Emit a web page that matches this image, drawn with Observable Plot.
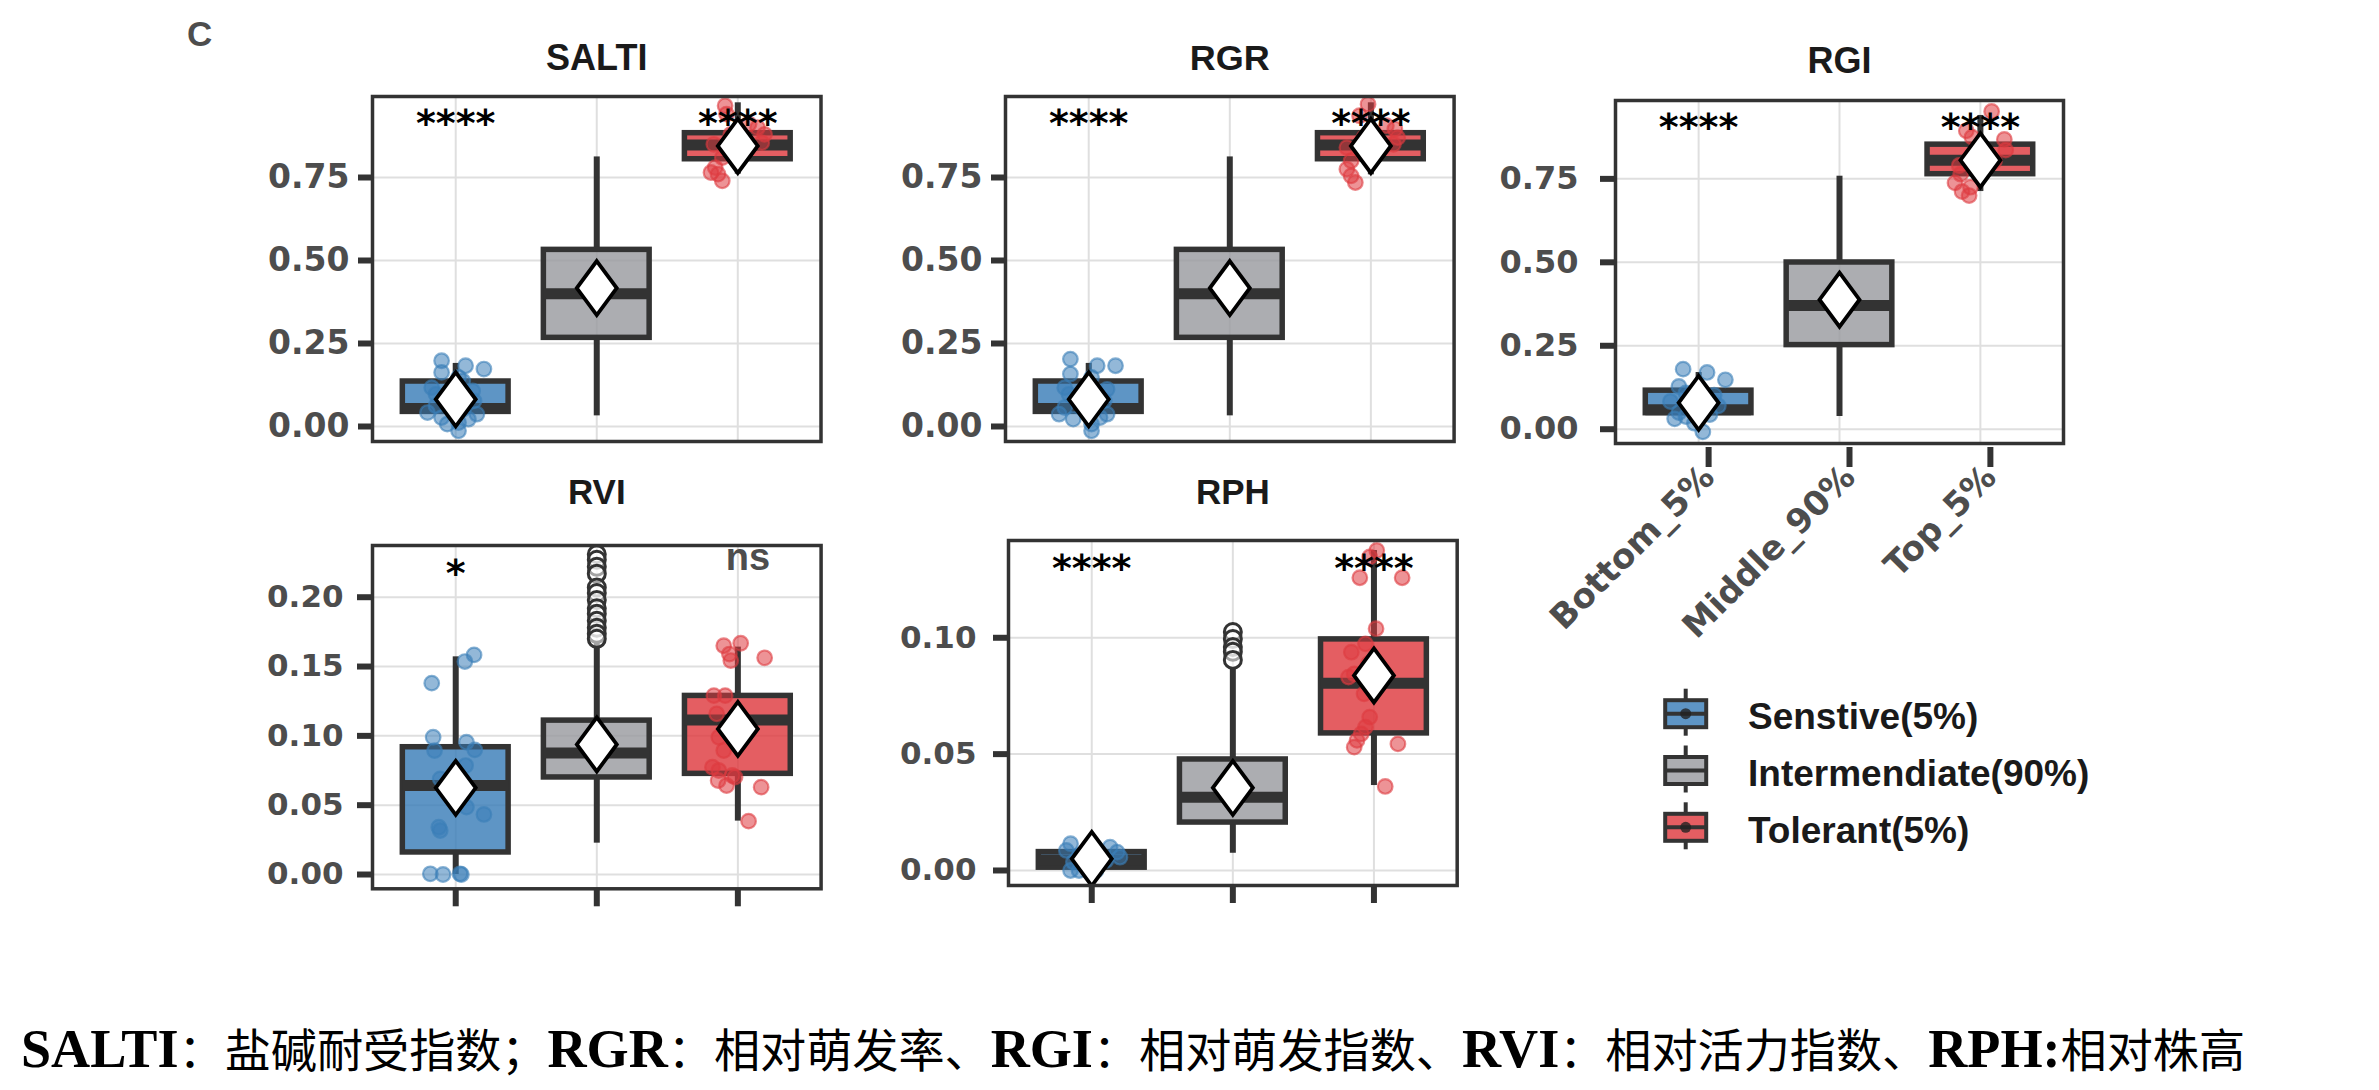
<!DOCTYPE html>
<html>
<head>
<meta charset="utf-8">
<script src="https://cdn.jsdelivr.net/npm/d3@7"></script>
<script src="https://cdn.jsdelivr.net/npm/@observablehq/plot@0.6"></script>
<style>
  html, body { margin: 0; padding: 0; background: #fff; }
  #page { position: relative; width: 2379px; height: 1090px; overflow: hidden; background: #fff; }
  #page svg { position: absolute; overflow: visible; max-width: none; }
  #caption { position: absolute; left: 21px; top: 1016px; white-space: nowrap; line-height: 62px; transform-origin: 0 50%; color: #000; }
  #caption .l { font-family: 'Liberation Serif', 'Times New Roman', serif; font-weight: bold; font-size: 54px; }
  #caption .c { font-family: 'Noto Sans CJK SC', sans-serif; font-weight: 400; font-size: 46px; }
</style>
</head>
<body>
<div id="page">
  <div id="caption"><span class="l">SALTI</span><span class="c">：盐碱耐受指数；</span><span class="l">RGR</span><span class="c">：相对萌发率、</span><span class="l">RGI</span><span class="c">：相对萌发指数、</span><span class="l">RVI</span><span class="c">：相对活力指数、</span><span class="l">RPH:</span><span class="c">相对株高</span></div>
</div>
<script>
// ---------------- DATA ----------------
const categories = ["Bottom_5%", "Middle_90%", "Top_5%"];
const groups = ["Senstive(5%)", "Intermendiate(90%)", "Tolerant(5%)"];
const traits = ["SALTI", "RGR", "RGI", "RVI", "RPH"];
const yTicks = [
  [0, 0.25, 0.5, 0.75],
  [0, 0.25, 0.5, 0.75],
  [0, 0.25, 0.5, 0.75],
  [0, 0.05, 0.10, 0.15, 0.20],
  [0, 0.05, 0.10]
];

// box statistics: one row per trait, columns follow categories
const whiskerLow  = [[0.000, 0.032, 0.760], [0.000, 0.032, 0.758], [0.000, 0.038, 0.712], [0.000, 0.0226, 0.0385], [0.000, 0.0074, 0.0365]];
const quart1      = [[0.044, 0.267, 0.805], [0.044, 0.267, 0.805], [0.048, 0.252, 0.764], [0.0159, 0.070, 0.0726], [0.0012, 0.0206, 0.0589]];
const medians     = [[0.054, 0.400, 0.848], [0.054, 0.400, 0.848], [0.058, 0.371, 0.806], [0.0642, 0.0877, 0.1115], [0.0045, 0.0315, 0.0805]];
const quart3      = [[0.1355, 0.532, 0.8835], [0.1355, 0.532, 0.8835], [0.1155, 0.4995, 0.8525], [0.0918, 0.111, 0.1288], [0.0079, 0.0477, 0.0993]];
const whiskerHigh = [[0.190, 0.812, 0.975], [0.190, 0.812, 0.975], [0.170, 0.758, 0.940], [0.157, 0.1675, 0.164], [0.013, 0.0874, 0.1375]];
const means       = [[0.082, 0.417, 0.845], [0.082, 0.417, 0.845], [0.079, 0.388, 0.806], [0.0625, 0.0938, 0.105], [0.005, 0.0355, 0.0838]];

// significance labels per trait (vs. Middle_90%)
const significance = [
  ["****", "", "****"], ["****", "", "****"], ["****", "", "****"], ["*", "", "ns"], ["****", "", "****"]
];

// jittered observations: [value, horizontal jitter in category units]
const SALTI_sens = [[0.198,-0.10],[0.183,0.07],[0.173,0.20],[0.163,-0.10],[0.148,0.02],[0.137,0.05],[0.117,-0.17],[0.107,0.12],[0.097,-0.14],[0.087,-0.07],[0.077,0.13],[0.062,-0.14],[0.052,0.05],[0.042,-0.20],[0.037,0.15],[0.027,-0.10],[0.022,0.09],[0.012,0.02],[0.007,-0.06],[-0.013,0.02]];
const SALTI_tol  = [[0.966,-0.09],[0.941,-0.08],[0.911,0.08],[0.900,0.14],[0.880,0.19],[0.855,0.17],[0.850,-0.17],[0.880,-0.05],[0.830,0.02],[0.810,-0.11],[0.780,-0.16],[0.765,-0.19],[0.760,-0.14],[0.740,-0.11]];
const RGR_sens   = [[0.203,-0.13],[0.183,0.06],[0.183,0.19],[0.158,-0.13],[0.148,0.02],[0.117,-0.17],[0.112,0.13],[0.097,-0.14],[0.087,-0.08],[0.077,0.11],[0.057,-0.17],[0.052,0.03],[0.037,-0.21],[0.037,0.13],[0.027,0.08],[0.022,-0.11],[0.007,0.02],[-0.013,0.02]];
const RGR_tol    = [[0.971,-0.02],[0.936,-0.08],[0.906,0.11],[0.896,0.17],[0.870,0.19],[0.850,0.16],[0.870,-0.05],[0.840,-0.17],[0.800,-0.14],[0.775,-0.17],[0.755,-0.14],[0.735,-0.11]];
const RGI_sens   = [[0.180,-0.11],[0.170,0.06],[0.148,0.19],[0.128,-0.14],[0.109,-0.09],[0.102,0.11],[0.083,-0.20],[0.070,0.14],[0.060,0.02],[0.050,-0.14],[0.044,0.08],[0.038,-0.09],[0.031,-0.17],[0.018,-0.03],[-0.008,0.03]];
const RGI_tol    = [[0.952,0.08],[0.894,-0.10],[0.875,-0.06],[0.868,0.17],[0.836,0.18],[0.803,0.10],[0.790,-0.15],[0.764,-0.14],[0.738,-0.18],[0.725,-0.07],[0.712,-0.13],[0.700,-0.08]];
const RVI_sens   = [[0.1584,0.13],[0.1536,0.065],[0.138,-0.17],[0.099,-0.16],[0.0954,0.076],[0.0899,0.135],[0.0894,-0.15],[0.0786,0.07],[0.069,-0.11],[0.0486,0.076],[0.0433,0.20],[0.0341,-0.12],[0.0317,-0.11],[0.0005,-0.18],[0.0,-0.09],[0.0005,0.03],[0.0,0.04]];
const RVI_tol    = [[0.1668,0.02],[0.165,-0.10],[0.159,-0.06],[0.1563,0.19],[0.1543,-0.05],[0.129,-0.17],[0.129,-0.09],[0.1159,-0.15],[0.099,-0.135],[0.0894,-0.10],[0.0774,-0.18],[0.075,-0.135],[0.0714,-0.04],[0.0702,-0.02],[0.0678,-0.14],[0.0642,-0.08],[0.063,0.165],[0.0385,0.076]];
const RPH_sens   = [[0.0115,-0.15],[0.0086,-0.18],[0.0064,-0.09],[0.0036,-0.13],[0.0,-0.09],[0.0,-0.15],[0.010,0.13],[0.0079,0.18],[0.0057,0.20],[0.0043,0.10],[0.0,0.03],[0.002,-0.05]];
const RPH_tol    = [[0.1375,0.02],[0.1347,-0.03],[0.1258,-0.10],[0.1258,0.20],[0.1039,0.015],[0.0974,-0.06],[0.0938,-0.16],[0.0888,-0.04],[0.0845,-0.14],[0.0831,-0.18],[0.0759,-0.07],[0.0659,-0.03],[0.0616,-0.06],[0.0587,-0.09],[0.0559,-0.12],[0.053,-0.14],[0.0544,0.17],[0.0361,0.08]];
// outliers of the Middle_90% group
const RVI_outliers = [0.231, 0.227, 0.222, 0.217, 0.207, 0.203, 0.198, 0.192, 0.188, 0.183, 0.178, 0.1736, 0.170];
const RPH_outliers = [0.1025, 0.0995, 0.096, 0.094, 0.0905];

const sensitivePoints = [SALTI_sens, RGR_sens, RGI_sens, RVI_sens, RPH_sens];
const tolerantPoints  = [SALTI_tol, RGR_tol, RGI_tol, RVI_tol, RPH_tol];
const middleOutliers  = [[], [], [], RVI_outliers, RPH_outliers];

// ---------------- STYLE / LAYOUT ----------------
const groupColors = ["#3b7eb8", "#9a9ba0", "#de3a40"];
const DARK = "#333333";
const FONT_SANS = "'Liberation Sans', Arial, Helvetica, sans-serif";
const FONT_WIDE = "'DejaVu Sans', Verdana, sans-serif";

const layout = [
  {frame: [372, 96, 820.5, 441], domain: [-0.0452, 0.994], tickFs: 33, tickLen: 14, tickPad: 9, titleFs: 36, titleY: 58, xAxis: "none", sigY: 115},
  {frame: [1005, 96, 1453.6, 441], domain: [-0.0452, 0.994], tickFs: 33, tickLen: 14, tickPad: 9, titleFs: 36, titleY: 58, xAxis: "none", sigY: 115},
  {frame: [1615, 100, 2063, 443], domain: [-0.0428, 0.9848], tickFs: 32, tickLen: 15, tickPad: 22, titleFs: 36, titleY: 61, xAxis: "labels", sigY: 119},
  {frame: [372, 545, 820.6, 888.3], domain: [-0.0103, 0.2373], tickFs: 31, tickLen: 15, tickPad: 14, titleFs: 35, titleY: 492, xAxis: "ticks", sigY: 565, nsY: 559},
  {frame: [1008.3, 540, 1457, 885], domain: [-0.00645, 0.1418], tickFs: 31, tickLen: 15, tickPad: 17, titleFs: 35, titleY: 492, xAxis: "ticks", sigY: 560}
];

const tallDiamond = {
  draw(ctx, size) {
    const r = Math.sqrt(size / Math.PI);
    const w = r * 0.74;
    ctx.moveTo(0, -r); ctx.lineTo(w, 0); ctx.lineTo(0, r); ctx.lineTo(-w, 0); ctx.closePath();
  }
};

const page = document.getElementById("page");

function drawPanel(i) {
  const L = layout[i];
  const [fx1, fy1, fx2, fy2] = L.frame;
  const ml = 230, mt = 110, mr = 40, mb = 200;
  const hw = 0.375;
  const stats = categories.map((c, k) => ({
    k: k + 1, g: groups[k],
    lo: whiskerLow[i][k], q1: quart1[i][k], med: medians[i][k],
    q3: quart3[i][k], hi: whiskerHigh[i][k], mean: means[i][k]
  }));
  const pts = [
    ...sensitivePoints[i].map(([v, dx]) => ({x: 1 + dx, v, g: groups[0]})),
    ...tolerantPoints[i].map(([v, dx]) => ({x: 3 + dx, v, g: groups[2]}))
  ];
  const sig = significance[i].map((t, k) => ({k: k + 1, t})).filter(d => d.t);
  const stars = sig.filter(d => d.t !== "ns");
  const ns = sig.filter(d => d.t === "ns");

  const marks = [
    Plot.gridY({ticks: yTicks[i], stroke: "#dfdfdf", strokeOpacity: 1, strokeWidth: 2}),
    Plot.gridX({ticks: [1, 2, 3], stroke: "#dfdfdf", strokeOpacity: 1, strokeWidth: 2}),
    Plot.ruleX(stats, {x: "k", y1: "lo", y2: "q1", stroke: DARK, strokeWidth: 6}),
    Plot.ruleX(stats, {x: "k", y1: "q3", y2: "hi", stroke: DARK, strokeWidth: 6}),
    Plot.rect(stats, {x1: d => d.k - hw, x2: d => d.k + hw, y1: "q1", y2: "q3", fill: "g", fillOpacity: 0.82, stroke: DARK, strokeWidth: 5.5}),
    Plot.ruleY(stats, {y: "med", x1: d => d.k - hw, x2: d => d.k + hw, stroke: DARK, strokeWidth: 11}),
    Plot.dot(pts, {x: "x", y: "v", r: 7.3, fill: "g", stroke: "g", fillOpacity: 0.55, strokeOpacity: 0.6, strokeWidth: 2.2}),
    Plot.dot(middleOutliers[i], {x: () => 2, y: d => d, r: 8.5, fill: "white", fillOpacity: 0.55, stroke: DARK, strokeWidth: 3}),
    Plot.dot(stats, {x: "k", y: "mean", symbol: tallDiamond, r: 27, fill: "white", stroke: "black", strokeWidth: 3.8}),
    Plot.text(stars, {x: "k", text: "t", frameAnchor: "top", lineAnchor: "middle", dy: L.sigY - fy1 + 8, fontFamily: FONT_WIDE, fontWeight: "bold", fontSize: 38, fill: "black"}),
    Plot.text(ns, {x: "k", text: "t", frameAnchor: "top", lineAnchor: "middle", dx: 10, dy: (L.nsY || 0) - fy1 - 2, fontFamily: FONT_SANS, fontWeight: "bold", fontSize: 38, fill: "#4d4d4d"}),
    Plot.frame({stroke: DARK, strokeWidth: 3.5}),
    Plot.axisY({ticks: yTicks[i], tickFormat: d3.format(".2f"), tickSize: L.tickLen, tickPadding: L.tickPad, stroke: DARK, strokeWidth: 6, fill: "#4d4d4d", fontSize: L.tickFs, fontWeight: "bold", fontFamily: FONT_WIDE, label: null}),
    Plot.text([traits[i]], {frameAnchor: "top", lineAnchor: "middle", dy: L.titleY - fy1, text: d => d, fontFamily: FONT_SANS, fontWeight: "bold", fontSize: L.titleFs, fill: "#1a1a1a"})
  ];
  if (L.xAxis === "labels") {
    marks.push(Plot.axisX({ticks: [1, 2, 3], tickFormat: d => categories[d - 1], tickRotate: -45, tickSize: 20, tickPadding: 4, dx: 10, dy: 4, stroke: DARK, strokeWidth: 6, fill: "#4d4d4d", fontSize: 34, fontWeight: "bold", fontFamily: FONT_WIDE, label: null}));
  } else if (L.xAxis === "ticks") {
    marks.push(Plot.axisX({ticks: [1, 2, 3], tickFormat: () => "", tickSize: 18, stroke: DARK, strokeWidth: 6, label: null}));
  }

  const svg = Plot.plot({
    width: fx2 - fx1 + ml + mr,
    height: fy2 - fy1 + mt + mb,
    marginLeft: ml, marginRight: mr, marginTop: mt, marginBottom: mb,
    x: {type: "linear", domain: [0.41, 3.59], axis: null, label: null},
    y: {type: "linear", domain: L.domain, axis: null, label: null},
    color: {domain: groups, range: groupColors},
    style: {background: "transparent", overflow: "visible"},
    marks
  });
  svg.style.position = "absolute";
  svg.style.left = (fx1 - ml) + "px";
  svg.style.top = (fy1 - mt) + "px";
  page.appendChild(svg);
}

traits.forEach((t, i) => drawPanel(i));

// ---------------- LEGEND + PANEL TAG ----------------
const overlay = d3.select(page).append("svg")
  .attr("width", 2379).attr("height", 1090)
  .style("left", "0px").style("top", "0px").style("pointer-events", "none");
overlay.append("text").attr("x", 187).attr("y", 46)
  .attr("font-family", FONT_SANS).attr("font-weight", "bold").attr("font-size", 35)
  .attr("fill", "#4d4d4d").text("C");

const keyX = 1685.7, keyTop = 713.7, keyStep = 56.8, keyW = 41, keyH = 27;
groups.forEach((g, k) => {
  const cy = keyTop + k * keyStep;
  const gEl = overlay.append("g");
  gEl.append("line").attr("x1", keyX).attr("x2", keyX).attr("y1", cy - 25).attr("y2", cy + 22)
    .attr("stroke", DARK).attr("stroke-width", 4);
  gEl.append("rect").attr("x", keyX - keyW / 2).attr("y", cy - keyH / 2).attr("width", keyW).attr("height", keyH)
    .attr("fill", "white");
  gEl.append("rect").attr("x", keyX - keyW / 2).attr("y", cy - keyH / 2).attr("width", keyW).attr("height", keyH)
    .attr("fill", groupColors[k]).attr("fill-opacity", 0.82).attr("stroke", DARK).attr("stroke-width", 4);
  gEl.append("line").attr("x1", keyX - keyW / 2).attr("x2", keyX + keyW / 2).attr("y1", cy).attr("y2", cy)
    .attr("stroke", DARK).attr("stroke-width", 4);
  if (k !== 1) {
    gEl.append("circle").attr("cx", keyX).attr("cy", cy).attr("r", 5.5).attr("fill", "#222").attr("fill-opacity", 0.8);
  }
  gEl.append("text").attr("x", 1748).attr("y", cy + 3).attr("dominant-baseline", "central")
    .attr("font-family", FONT_SANS).attr("font-weight", "bold").attr("font-size", 37)
    .attr("fill", "#1a1a1a").text(g);
});

// ---------------- CAPTION FIT ----------------
function fitCaption() {
  const cap = document.getElementById("caption");
  cap.style.transform = "none";
  const w = cap.getBoundingClientRect().width;
  if (w > 0) cap.style.transform = `scaleX(${2224 / w})`;
}
fitCaption();
if (document.fonts && document.fonts.ready) document.fonts.ready.then(fitCaption);
</script>
</body>
</html>
